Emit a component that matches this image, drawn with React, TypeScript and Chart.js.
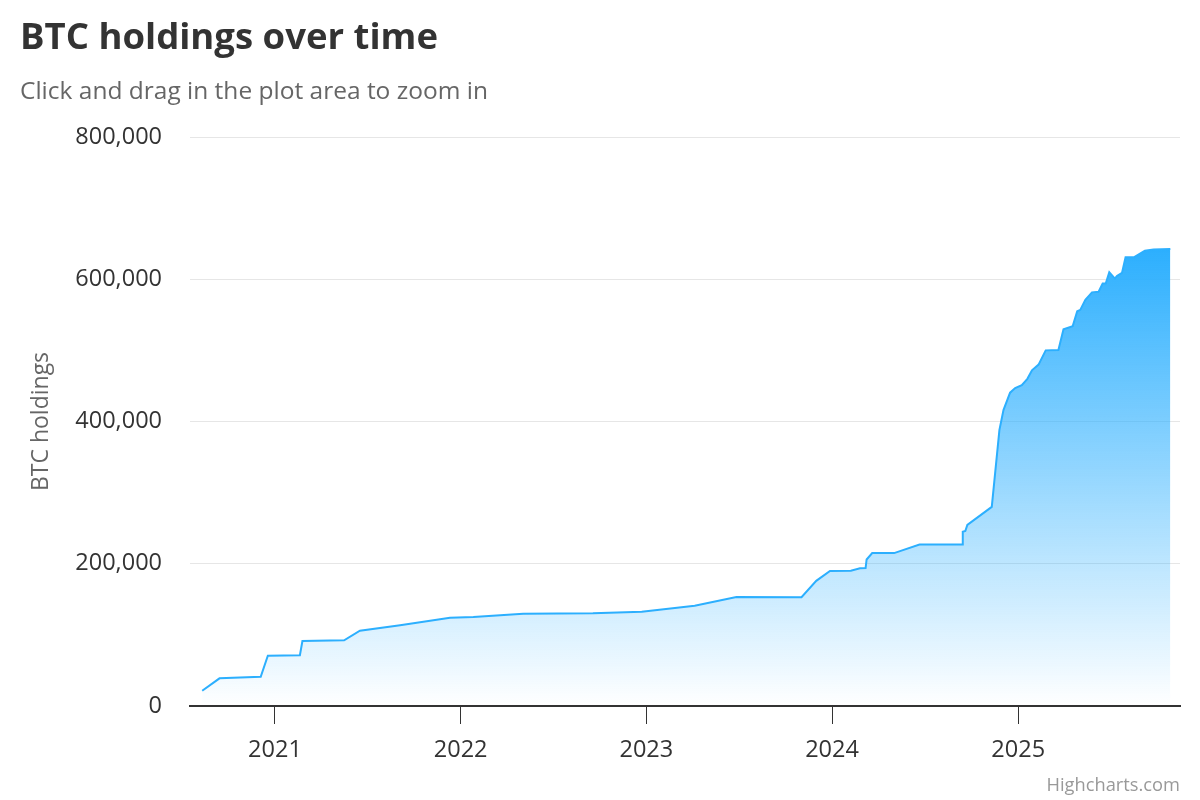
import React, { useEffect, useRef } from "react";
import { Chart, registerables } from "chart.js";

Chart.register(...registerables);

const dates: string[] = [
  "2020-08-11", "2020-09-14", "2020-12-04", "2020-12-18", "2021-02-19", "2021-02-24",
  "2021-05-17", "2021-06-17", "2021-09-04", "2021-12-11", "2022-01-26", "2022-05-04",
  "2022-09-18", "2022-12-23", "2023-04-06", "2023-06-27", "2023-11-02", "2023-12-01",
  "2023-12-28", "2024-02-07", "2024-02-25", "2024-03-07", "2024-03-09", "2024-03-20",
  "2024-05-02", "2024-06-21", "2024-09-13", "2024-09-14", "2024-09-19", "2024-09-23",
  "2024-11-10", "2024-11-25", "2024-12-03", "2024-12-16", "2024-12-26", "2025-01-08",
  "2025-01-19", "2025-01-28", "2025-02-10", "2025-02-24", "2025-03-21", "2025-03-31",
  "2025-04-18", "2025-04-27", "2025-05-03", "2025-05-13", "2025-05-26", "2025-06-08",
  "2025-06-16", "2025-06-22", "2025-06-29", "2025-07-10", "2025-07-14", "2025-07-24",
  "2025-07-31", "2025-08-17", "2025-09-07", "2025-09-24", "2025-10-27",
];

const holdings: number[] = [
  21500, 38900, 41200, 70700, 71300, 91400,
  92400, 105900, 113400, 124000, 125000, 129800,
  130300, 132600, 141000, 153300, 153000, 176000,
  189800, 190200, 193600, 194000, 206000, 215000,
  215000, 227000, 227000, 245000, 246000, 254500,
  280000, 388000, 416000, 440500, 447000, 451000,
  460000, 472000, 480000, 500000, 500500, 529600,
  534000, 555000, 557000, 571000, 581600, 582500,
  594000, 594000, 610000, 601000, 604600, 609000,
  631000, 631000, 640000, 642000, 642600,
];

const yearTicks: number[] = [2021, 2022, 2023, 2024, 2025];
const yTicks: number[] = [0, 200000, 400000, 600000, 800000];

const titleText = "BTC holdings over time";
const subtitleText = "Click and drag in the plot area to zoom in";
const yAxisTitle = "BTC holdings";
const creditText = "Highcharts.com";

const toMs = (s: string) => {
  const [y, m, d] = s.split("-").map(Number);
  return Date.UTC(y, m - 1, d);
};

const FONT = "'Open Sans', 'Noto Sans', sans-serif";
const LINE = "#2caffe";

export default function App() {
  const ref = useRef<HTMLCanvasElement | null>(null);

  useEffect(() => {
    if (!ref.current) return;
    Chart.defaults.font.family = FONT;
    const points = dates.map((d, i) => ({ x: toMs(d), y: holdings[i] }));
    const maxVal = Math.max(...holdings);

    const chart = new Chart(ref.current, {
      type: "line",
      data: {
        datasets: [
          {
            label: "BTC holdings",
            data: points,
            borderColor: LINE,
            borderWidth: 2,
            pointRadius: 0,
            tension: 0,
            fill: "origin",
            backgroundColor: (ctx: any) => {
              const c = ctx.chart;
              const area = c.chartArea;
              if (!area) return "rgba(44,175,254,0.3)";
              const top = c.scales.y.getPixelForValue(maxVal);
              const g = c.ctx.createLinearGradient(0, top, 0, area.bottom);
              g.addColorStop(0, "rgba(44,175,254,1)");
              g.addColorStop(1, "rgba(44,175,254,0)");
              return g;
            },
          },
        ],
      },
      options: {
        responsive: false,
        animation: false,
        layout: { padding: { top: 137, left: 20, right: 20, bottom: 0 } },
        plugins: {
          legend: { display: false },
          tooltip: { enabled: false },
          title: { display: false },
        },
        scales: {
          x: {
            type: "linear",
            min: Date.UTC(2020, 6, 18),
            max: Date.UTC(2025, 10, 15),
            afterBuildTicks: (scale: any) => {
              scale.ticks = yearTicks.map((y) => ({ value: Date.UTC(y, 0, 1) }));
            },
            afterFit: (scale: any) => {
              scale.height = 94;
            },
            ticks: {
              autoSkip: false,
              maxRotation: 0,
              color: "#333333",
              font: { size: 23.5 },
              padding: 12,
              callback: (v: any) => String(new Date(Number(v)).getUTCFullYear()),
            },
            grid: {
              display: true,
              drawOnChartArea: false,
              drawTicks: true,
              tickLength: 18,
              color: "#333333",
              lineWidth: 1,
            },
            border: { display: true, color: "#333333", width: 2 },
          },
          y: {
            min: 0,
            max: 800000,
            afterBuildTicks: (scale: any) => {
              scale.ticks = yTicks.map((v) => ({ value: v }));
            },
            afterFit: (scale: any) => {
              scale.width = 170;
            },
            ticks: {
              color: "#333333",
              font: { size: 23.5 },
              padding: 28,
              callback: (v: any) => Number(v).toLocaleString("en-US"),
            },
            grid: {
              drawTicks: false,
              color: (ctx: any) => (ctx.tick && ctx.tick.value === 0 ? "rgba(0,0,0,0)" : "#e6e6e6"),
              lineWidth: 1,
            },
            border: { display: false },
            title: {
              display: true,
              text: yAxisTitle,
              color: "#666666",
              font: { size: 23 },
              padding: { top: 8, bottom: 0 },
            },
          },
        },
      },
    } as any);

    return () => chart.destroy();
  }, []);

  return (
    <div
      style={{
        position: "fixed",
        left: 0,
        top: 0,
        width: 1200,
        height: 800,
        background: "#ffffff",
        fontFamily: FONT,
      }}
    >
      <canvas ref={ref} width={1200} height={800} style={{ width: 1200, height: 800, display: "block" }} />
      <div
        style={{
          position: "absolute",
          left: 20,
          top: 12,
          fontSize: 36.5,
          fontWeight: 700,
          color: "#333333",
          lineHeight: "46px",
          whiteSpace: "nowrap",
        }}
      >
        {titleText}
      </div>
      <div
        style={{
          position: "absolute",
          left: 20,
          top: 74,
          fontSize: 24.5,
          color: "#666666",
          lineHeight: "32px",
          whiteSpace: "nowrap",
        }}
      >
        {subtitleText}
      </div>
      <div
        style={{
          position: "absolute",
          right: 20,
          top: 771,
          fontSize: 18.3,
          color: "#999999",
          lineHeight: "26px",
          whiteSpace: "nowrap",
        }}
      >
        {creditText}
      </div>
    </div>
  );
}
